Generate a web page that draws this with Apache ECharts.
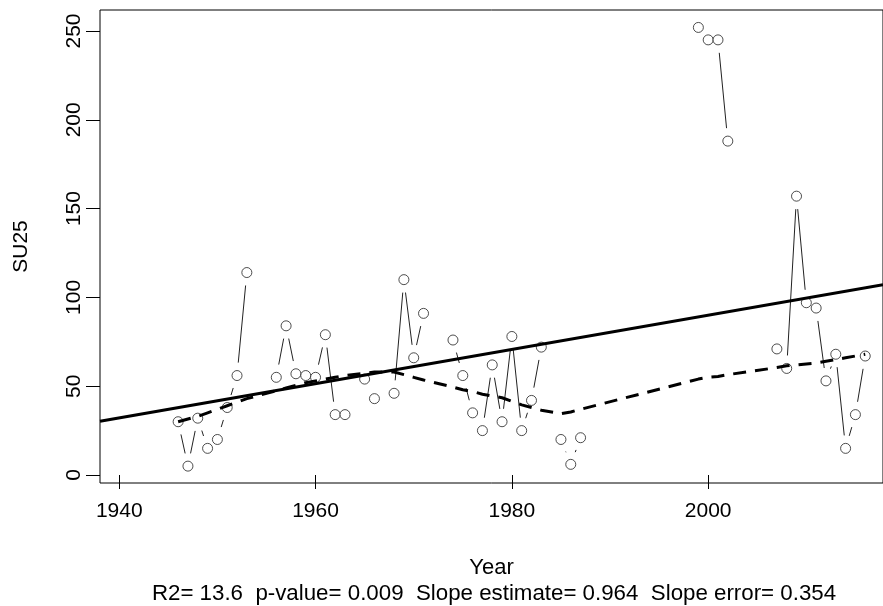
<!DOCTYPE html>
<html>
<head>
<meta charset="utf-8">
<script src="https://cdn.jsdelivr.net/npm/echarts@6/dist/echarts.min.js"></script>
<style>
html,body{margin:0;padding:0;background:#fff;}
#chart{width:883px;height:606px;}
</style>
</head>
<body>
<div id="chart"></div>
<script>
// ---- data ----
const years = [1946,1947,1948,1949,1950,1951,1952,1953,1956,1957,1958,1959,1960,1961,1962,1963,1965,1966,1968,1969,1970,1971,1974,1975,1976,1977,1978,1979,1980,1981,1982,1983,1985,1986,1987,1999,2000,2001,2002,2007,2008,2009,2010,2011,2012,2013,2014,2015,2016];
const su25  = [30,5,32,15,20,38,56,114,55,84,57,56,55,79,34,34,54,43,46,110,66,91,76,56,35,25,62,30,78,25,42,72,20,6,21,252,245,245,188,71,60,157,97,94,53,68,15,34,67];
const lowessFit = [30,31.5,33,35,37,39,41,43,47.5,49,50.5,52,53,54,55,56,57.3,58,58,56.5,55,53.5,49.5,48,47,45.5,44.5,43.5,41.5,39.5,38,36.5,34.5,35.5,37,54,55,55.5,56.5,60.5,61.5,62,62.5,63,64,65,66,67,68];
const regYears = [1938.04, 2017.81];
const regValues = [30.3, 107.2];
const xTicks = [1940,1960,1980,2000];
const yTicks = [0,50,100,150,200,250];
const subtitle = 'R2= 13.6  p-value= 0.009  Slope estimate= 0.964  Slope error= 0.354';

// ---- derived series data ----
const points = years.map((y,i)=>[y, su25[i]]);
const segs = [];
for (let i=1;i<years.length;i++){
  if (years[i]-years[i-1]===1 && su25[i]!=null && su25[i-1]!=null) segs.push([years[i-1],su25[i-1],years[i],su25[i]]);
}
const lowessPts = years.map((y,i)=>[y, lowessFit[i]]);
const regPts = regYears.map((y,i)=>[y, regValues[i]]);

const FONT = 'Liberation Sans, Arial, sans-serif';
const GAP = 13;

const chart = echarts.init(document.getElementById('chart'), null, {renderer:'canvas'});
chart.setOption({
  animation:false,
  backgroundColor:'#fff',
  title:{
    text: subtitle,
    left: 489, top: 578,
    textAlign:'center',
    textStyle:{fontFamily:FONT, fontSize:22.3, fontWeight:'normal', color:'#000'}
  },
  grid:{left:100, top:10, width:784, height:473, show:true, borderColor:'#000', borderWidth:1, backgroundColor:'transparent'},
  xAxis:{
    type:'value', min:regYears[0], max:regYears[1],
    name:'Year', nameLocation:'middle', nameGap:74,
    nameTextStyle:{fontFamily:FONT, fontSize:22, color:'#000'},
    axisLine:{show:false},
    splitLine:{show:false},
    axisTick:{show:true, inside:false, length:14, lineStyle:{color:'#000', width:1}, customValues:xTicks},
    axisLabel:{show:true, margin:18, fontFamily:FONT, fontSize:21, color:'#000', customValues:xTicks, formatter:v=>String(v)}
  },
  yAxis:{
    type:'value', min:-4.5, max:261.82,
    name:'SU25', nameLocation:'middle', nameGap:68, nameRotate:90,
    nameTextStyle:{fontFamily:FONT, fontSize:21, color:'#000'},
    axisLine:{show:false},
    splitLine:{show:false},
    axisTick:{show:true, inside:false, length:14, lineStyle:{color:'#000', width:1}, customValues:yTicks},
    axisLabel:{show:true, rotate:90, margin:15, fontFamily:FONT, fontSize:21, color:'#000', customValues:yTicks, formatter:v=>String(v)}
  },
  series:[
    {
      type:'custom', z:1,
      data:segs,
      encode:{x:[0,2], y:[1,3]},
      renderItem:function(params, api){
        const p1 = api.coord([api.value(0), api.value(1)]);
        const p2 = api.coord([api.value(2), api.value(3)]);
        const dx=p2[0]-p1[0], dy=p2[1]-p1[1];
        const L=Math.hypot(dx,dy);
        if (L<=2*GAP) return {type:'group', children:[]};
        const ux=dx/L, uy=dy/L;
        return {type:'line', shape:{x1:p1[0]+ux*GAP, y1:p1[1]+uy*GAP, x2:p2[0]-ux*GAP, y2:p2[1]-uy*GAP},
                style:{stroke:'#222', lineWidth:1}};
      },
      silent:true
    },
    {
      type:'scatter', z:2, data:points, symbol:'circle', symbolSize:10,
      itemStyle:{color:'#fff', borderColor:'#222', borderWidth:1}, silent:true
    },
    {
      type:'line', z:3, data:regPts, symbol:'none',
      lineStyle:{color:'#000', width:3}, silent:true
    },
    {
      type:'line', z:4, data:lowessPts, symbol:'none',
      lineStyle:{color:'#000', width:3, type:[13,9]}, silent:true
    }
  ]
});
</script>
</body>
</html>
